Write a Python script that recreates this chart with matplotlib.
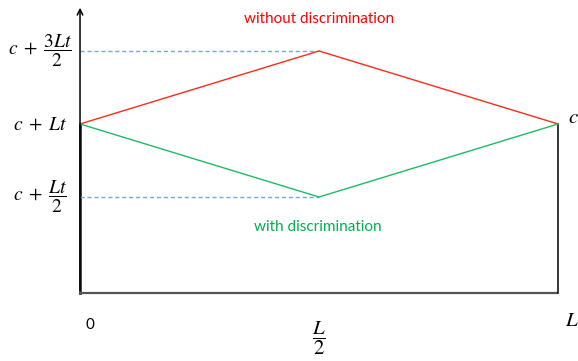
import matplotlib.pyplot as plt

# x in units of L, y in units of Lt above c (c + Lt -> 1)
x_pts = [0, 0.5, 1]
without_disc = [1.0, 1.5, 1.0]
with_disc = [1.0, 0.5, 1.0]
y_ticks = [1.5, 1.0, 0.5]
y_labels = [r'$c\;+\;\dfrac{3Lt}{2}$', r'$c\;+\;Lt$', r'$c\;+\;\dfrac{Lt}{2}$']
x_labels = ['0', r'$\dfrac{L}{2}$', r'$L$']

plt.rcParams['mathtext.fontset'] = 'stix'
plt.rcParams['font.family'] = 'Lato'

fig = plt.figure(figsize=(5.78, 3.61), dpi=100)
ax = fig.add_axes([0, 0, 1, 1])
ax.set_xlim(-0.1674, 1.0418)
ax.set_ylim(-0.623, 1.849)
ax.axis('off')

y0 = -0.157
ytop = 1.815

# axes
ax.annotate('', xy=(0, ytop), xytext=(0, y0),
            arrowprops=dict(arrowstyle='->', color='black', lw=1.1))
ax.plot([0, 0], [y0, 1.0], color='#333333', lw=2)
ax.plot([0, 1], [y0, y0], color='#555555', lw=1.6, solid_capstyle='butt')
ax.plot([1, 1], [y0, 1.0], color='black', lw=1.1)

# dashed guides
ax.plot([0, 0.5], [1.5, 1.5], color='#6fa8e8', lw=1, ls=(0, (3, 2)))
ax.plot([0, 0.5], [0.5, 0.5], color='#6fa8e8', lw=1, ls=(0, (3, 2)))

ax.plot(x_pts, without_disc, color='#ff2a1a', lw=1)
ax.plot(x_pts, with_disc, color='#1dbb63', lw=1)

# labels
for yv, lab in zip(y_ticks, y_labels):
    ax.text(-0.084, yv, lab, fontsize=14, ha='center', va='center')
ax.text(0.02, -0.377, x_labels[0], fontsize=11, ha='center', va='center')
ax.text(0.5, -0.466, x_labels[1], fontsize=15, ha='center', va='center')
ax.text(1.03, -0.342, x_labels[2], fontsize=15, ha='center', va='center')
ax.text(1.033, 1.048, r'$c$', fontsize=15, ha='center', va='center')

ax.text(0.501, 1.719, 'without discrimination', color='#ff0000', fontsize=11,
        ha='center', va='center')
ax.text(0.497, 0.295, 'with discrimination', color='#00b050', fontsize=11,
        ha='center', va='center')

fig.savefig('out.png', dpi=100)
